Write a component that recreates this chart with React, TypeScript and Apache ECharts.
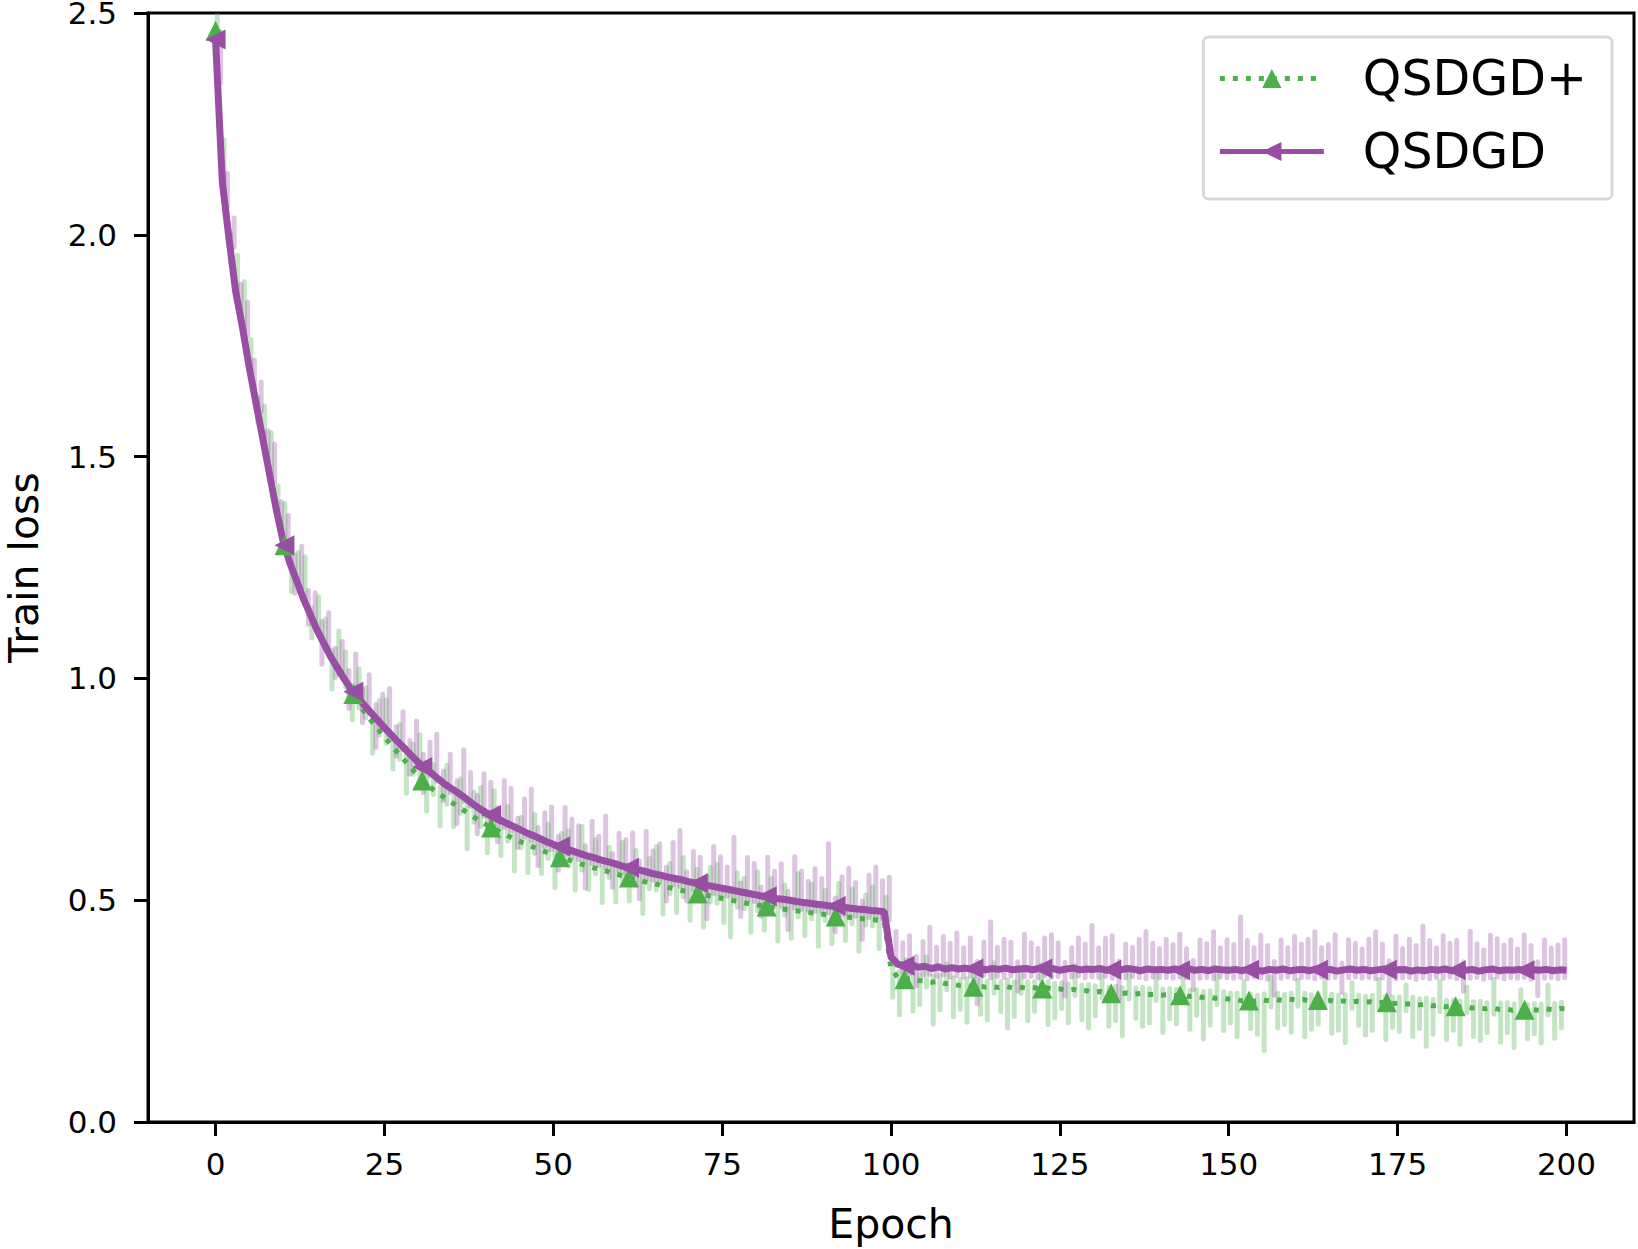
import React, { useEffect, useRef } from "react";
import * as echarts from "echarts";

const FONT = "DejaVu Sans";
const GREEN = "#4daf4a";
const PURPLE = "#984ea3";
const GREEN_T = "rgba(77,175,74,0.33)";
const PURPLE_T = "rgba(152,78,163,0.33)";

const seriesNames = ["QSDGD+", "QSDGD"];
const xTicks = [0, 25, 50, 75, 100, 125, 150, 175, 200];
const yTicks = [0, 0.5, 1, 1.5, 2, 2.5];

// epoch index 0..200
const epochs: number[] = Array.from({ length: 201 }, (_, i) => i);

// QSDGD (purple) mean train loss per epoch
const qsdgdLoss = [
  2.44, 2.12, 1.99, 1.87, 1.79, 1.7, 1.62, 1.54, 1.46, 1.38,
  1.31, 1.26, 1.22, 1.18, 1.145, 1.11, 1.08, 1.05, 1.025, 1.0,
  0.977, 0.958, 0.94, 0.923, 0.906, 0.889, 0.873, 0.857, 0.842, 0.826,
  0.811, 0.798, 0.786, 0.773, 0.761, 0.751, 0.741, 0.73, 0.718, 0.707,
  0.698, 0.69, 0.682, 0.674, 0.667, 0.66, 0.652, 0.646, 0.639, 0.632,
  0.626, 0.621, 0.615, 0.61, 0.605, 0.6, 0.596, 0.591, 0.587, 0.583,
  0.578, 0.574, 0.571, 0.567, 0.563, 0.559, 0.556, 0.552, 0.549, 0.546,
  0.542, 0.539, 0.536, 0.533, 0.53, 0.527, 0.524, 0.521, 0.518, 0.515,
  0.512, 0.509, 0.507, 0.504, 0.502, 0.5, 0.497, 0.495, 0.493, 0.491,
  0.489, 0.487, 0.485, 0.484, 0.482, 0.48, 0.479, 0.477, 0.476, 0.474,
  0.372, 0.356, 0.352, 0.355, 0.349, 0.351, 0.346, 0.35, 0.345, 0.348,
  0.345, 0.347, 0.344, 0.348, 0.343, 0.346, 0.344, 0.347, 0.343, 0.345,
  0.346, 0.343, 0.347, 0.344, 0.346, 0.342, 0.345, 0.347, 0.343, 0.345,
  0.344, 0.346, 0.342, 0.345, 0.343, 0.346, 0.344, 0.341, 0.345, 0.343,
  0.344, 0.342, 0.345, 0.343, 0.346, 0.342, 0.344, 0.341, 0.345, 0.343,
  0.342, 0.344, 0.341, 0.345, 0.343, 0.34, 0.344, 0.342, 0.345, 0.341,
  0.343, 0.344, 0.341, 0.345, 0.342, 0.344, 0.34, 0.343, 0.345, 0.342,
  0.344, 0.341, 0.343, 0.345, 0.341, 0.343, 0.344, 0.34, 0.343, 0.341,
  0.344, 0.342, 0.345, 0.341, 0.343, 0.342, 0.344, 0.34, 0.343, 0.345,
  0.341, 0.343, 0.342, 0.344, 0.34, 0.343, 0.342, 0.344, 0.341, 0.343,
  0.342,
];

// QSDGD+ (green) mean train loss per epoch
const qsdgdPlusLoss = [
  2.46, 2.12, 1.99, 1.87, 1.79, 1.7, 1.62, 1.54, 1.46, 1.38,
  1.31, 1.26, 1.22, 1.18, 1.145, 1.11, 1.08, 1.05, 1.023, 0.996,
  0.97, 0.947, 0.925, 0.905, 0.886, 0.868, 0.85, 0.832, 0.815, 0.798,
  0.779, 0.765, 0.752, 0.741, 0.73, 0.72, 0.71, 0.7, 0.69, 0.68,
  0.671, 0.663, 0.655, 0.647, 0.64, 0.633, 0.626, 0.62, 0.614, 0.608,
  0.602, 0.597, 0.592, 0.587, 0.582, 0.578, 0.573, 0.569, 0.565, 0.56,
  0.556, 0.552, 0.548, 0.544, 0.54, 0.537, 0.533, 0.529, 0.526, 0.522,
  0.519, 0.516, 0.513, 0.51, 0.507, 0.504, 0.501, 0.498, 0.495, 0.492,
  0.49, 0.487, 0.485, 0.482, 0.48, 0.478, 0.476, 0.474, 0.472, 0.47,
  0.468, 0.466, 0.464, 0.463, 0.461, 0.459, 0.458, 0.456, 0.455, 0.453,
  0.345, 0.326, 0.322, 0.324, 0.319, 0.318, 0.315, 0.317, 0.312, 0.311,
  0.308, 0.309, 0.305, 0.307, 0.304, 0.305, 0.303, 0.306, 0.302, 0.304,
  0.302, 0.303, 0.301, 0.303, 0.299, 0.3, 0.297, 0.299, 0.295, 0.296,
  0.293, 0.294, 0.29, 0.292, 0.289, 0.291, 0.288, 0.29, 0.287, 0.288,
  0.286, 0.287, 0.285, 0.287, 0.283, 0.284, 0.281, 0.282, 0.279, 0.28,
  0.277, 0.276, 0.273, 0.274, 0.272, 0.275, 0.273, 0.276, 0.274, 0.277,
  0.275, 0.276, 0.273, 0.275, 0.272, 0.274, 0.271, 0.273, 0.27, 0.272,
  0.27, 0.271, 0.268, 0.27, 0.267, 0.268, 0.265, 0.267, 0.264, 0.265,
  0.262, 0.263, 0.26, 0.261, 0.259, 0.26, 0.257, 0.258, 0.255, 0.257,
  0.254, 0.255, 0.252, 0.254, 0.251, 0.253, 0.252, 0.255, 0.253, 0.256,
  0.255,
];

// Marker positions (epochs) and the loss at each marker
const markerEpochs = [0, 10.2, 20.4, 30.6, 40.8, 51, 61.2, 71.4, 81.6, 91.8, 102, 112.2, 122.4, 132.6, 142.8, 153, 163.2, 173.4, 183.6, 193.8];
const qsdgdMarkers = [2.44, 1.3, 0.97, 0.8, 0.692, 0.621, 0.573, 0.538, 0.509, 0.487, 0.352, 0.346, 0.346, 0.343, 0.342, 0.343, 0.343, 0.343, 0.342, 0.342];
const qsdgdPlusMarkers = [2.46, 1.3, 0.965, 0.77, 0.664, 0.597, 0.551, 0.515, 0.486, 0.463, 0.322, 0.305, 0.301, 0.29, 0.286, 0.274, 0.275, 0.27, 0.261, 0.253];

// Per-epoch fluctuation of the individual runs (hundredths of loss; + above, - below)
const qsdgdSpikes = [
  -8, -4, 3, -5, 4, -6, 3, -4, 5, -3,
  4, -5, 6, -4, 3, -6, 5, -3, 4, -5,
  6, -4, 5, -6, 4, 7, -3, 5, -4, 6,
  -5, 4, 7, -3, 5, -6, 8, 4, -5, 6,
  5, -4, 7, 6, -3, 5, 8, -5, 4, 6,
  -4, 7, 5, 4, -6, 6, 3, 8, -4, 5,
  4, 6, -5, 7, 3, 5, -4, 6, 9, -3,
  5, 4, -6, 7, 5, 3, 10, -4, 6, 5,
  -3, 7, 4, 6, -5, 8, 5, 3, 6, 4,
  12, -4, 5, 7, 4, -5, 6, 8, 5, 6,
  4, 3, 5, -3, 4, 7, 3, 5, 4, 6,
  3, 5, -6, 4, 9, 3, 5, 4, -3, 6,
  4, 3, 5, 6, 4, -4, 3, 5, 4, 8,
  3, 5, 6, -5, 4, 3, 5, 7, 4, 3,
  5, 4, 6, 3, -3, 5, 4, 7, 3, 5,
  4, 10, 5, 3, 6, 4, -4, 5, 3, 6,
  4, 5, 7, 3, 4, 6, -3, 5, 4, 3,
  5, 7, 4, -4, 6, 3, 5, 4, 8, 5,
  3, 6, 4, 5, -3, 7, 4, 3, 6, 5,
  4, 5, 3, 6, 4, -4, 5, 3, 4, 5,
];
const qsdgdPlusSpikes = [
  6, 8, -4, 7, 9, 5, -3, 6, 8, 4,
  7, -5, 5, 8, -4, 6, 4, -6, 7, 5,
  -5, 6, 4, -6, 5, 7, -4, 5, -6, 4,
  8, -5, 4, -6, 6, -4, 5, -7, 4, 6,
  -5, 7, -4, 5, -6, 4, -5, 6, -4, 5,
  -6, 4, 5, -5, 7, -4, 5, -6, 4, -5,
  6, -4, 5, -6, 4, 7, -5, 4, -4, 6,
  -5, 4, -6, 5, 6, -4, -7, 5, 4, -5,
  6, -4, 5, -6, 4, -5, 7, -4, 5, -6,
  4, -5, 6, -4, 5, -6, 4, 6, -5, 4,
  -5, -7, 3, -6, -4, 4, -8, -5, 3, -6,
  -4, -7, 3, -5, -6, 4, -4, -8, -5, 3,
  -6, -4, 4, -7, -5, -3, -6, 4, -5, -7,
  -4, 3, -6, -5, -8, 4, -4, -6, -5, 3,
  -7, -4, -5, 4, -6, -3, -8, -5, 4, -6,
  -4, -7, 3, -5, -6, -10, 4, -5, -4, -6,
  3, -7, -5, -4, 4, -6, -5, -8, 3, -4,
  -6, -5, 4, -7, -4, -5, 3, -6, -4, -8,
  -5, 4, -6, -4, -7, 3, -5, -6, -4, 5,
  -6, -4, -7, 3, -5, -4, -6, 4, -5, -3,
];

function spikeData(mean: number[], devs: number[], offset: number, pad: number) {
  return devs.map((d, i) => {
    const base = mean[i];
    return [epochs[i] + offset, base + Math.min(d, 0) / 100 - pad, base + Math.max(d, 0) / 100 + pad];
  });
}

const spikeRender = (color: string) => (params: any, api: any) => {
  const a = api.coord([api.value(0), api.value(1)]);
  const b = api.coord([api.value(0), api.value(2)]);
  return {
    type: "line",
    shape: { x1: a[0], y1: a[1], x2: b[0], y2: b[1] },
    style: { stroke: color, lineWidth: 5, lineCap: "round" },
  };
};

export default function App() {
  const ref = useRef<HTMLDivElement>(null);
  useEffect(() => {
    if (!ref.current) return;
    const chart = echarts.init(ref.current, null, { renderer: "svg" });
    const option: any = {
      animation: false,
      backgroundColor: "#fff",
      textStyle: { fontFamily: FONT },
      grid: {
        left: 148, right: 4, top: 13, bottom: 127,
        containLabel: false, outerBoundsMode: "none",
        show: true, borderColor: "#000", borderWidth: 3, backgroundColor: "transparent",
      },
      legend: {
        data: seriesNames,
        orient: "vertical",
        right: 26, top: 37,
        backgroundColor: "#fff",
        borderColor: "#d9d9d9", borderWidth: 3, borderRadius: 5,
        padding: [17, 25, 23, 14],
        itemWidth: 104, itemHeight: 24, itemGap: 24,
        lineStyle: { width: 5 },
        textStyle: { fontSize: 49, fontFamily: FONT, color: "#000", padding: [0, 0, 0, 34] },
      },
      xAxis: {
        type: "value", min: -10, max: 210,
        name: "Epoch", nameLocation: "middle", nameGap: 81,
        nameTextStyle: { fontSize: 41, fontFamily: FONT, color: "#000" },
        axisLine: { onZero: false, lineStyle: { color: "#000", width: 3 } },
        axisTick: { customValues: xTicks, length: 14, lineStyle: { color: "#000", width: 3 } },
        axisLabel: { customValues: xTicks, fontSize: 31, fontFamily: FONT, color: "#000", margin: 26 },
        splitLine: { show: false },
      },
      yAxis: {
        type: "value", min: 0, max: 2.5, interval: 0.5,
        name: "Train loss", nameLocation: "middle", nameGap: 105,
        nameTextStyle: { fontSize: 41, lineHeight: 38, fontFamily: FONT, color: "#000" },
        axisLine: { show: true, onZero: false, lineStyle: { color: "#000", width: 3 } },
        axisTick: { show: true, customValues: yTicks, length: 14, lineStyle: { color: "#000", width: 3 } },
        axisLabel: {
          customValues: yTicks, fontSize: 31, lineHeight: 20, fontFamily: FONT, color: "#000", margin: 31,
          formatter: (v: number) => v.toFixed(1),
        },
        splitLine: { show: false },
      },
      series: [
        {
          type: "custom", name: "QSDGD+ runs", z: 1, clip: true,
          renderItem: spikeRender(GREEN_T),
          encode: { x: 0, y: [1, 2] },
          data: spikeData(qsdgdPlusLoss, qsdgdPlusSpikes, 0.25, 0.014),
        },
        {
          type: "custom", name: "QSDGD runs", z: 1, clip: true,
          renderItem: spikeRender(PURPLE_T),
          encode: { x: 0, y: [1, 2] },
          data: spikeData(qsdgdLoss, qsdgdSpikes, 0.75, 0.018),
        },
        {
          type: "line", name: "QSDGD+", z: 3,
          symbol: "triangle", symbolSize: 20, showSymbol: false,
          color: GREEN,
          lineStyle: { color: GREEN, width: 5, type: [5, 8], cap: "butt" },
          itemStyle: { color: GREEN },
          data: epochs.map((e, i) => [e, qsdgdPlusLoss[i]]),
        },
        {
          type: "line", name: "QSDGD", z: 4,
          symbol: "triangle", symbolRotate: 90, symbolSize: 20, showSymbol: false,
          color: PURPLE,
          lineStyle: { color: PURPLE, width: 7 },
          itemStyle: { color: PURPLE },
          data: epochs.map((e, i) => [e, qsdgdLoss[i]]),
        },
        {
          type: "scatter", name: "QSDGD+ markers", z: 5,
          symbol: "triangle", symbolSize: 20,
          itemStyle: { color: GREEN, opacity: 1 },
          data: markerEpochs.map((e, i) => [e, qsdgdPlusMarkers[i]]),
        },
        {
          type: "scatter", name: "QSDGD markers", z: 6,
          symbol: "triangle", symbolRotate: 90, symbolSize: 20,
          itemStyle: { color: PURPLE, opacity: 1 },
          data: markerEpochs.map((e, i) => [e, qsdgdMarkers[i]]),
        },
      ],
    };
    chart.setOption(option);
    return () => chart.dispose();
  }, []);
  return (
    <div
      ref={ref}
      style={{ position: "absolute", left: 0, top: 0, width: 1638, height: 1249, background: "#fff" }}
    />
  );
}
